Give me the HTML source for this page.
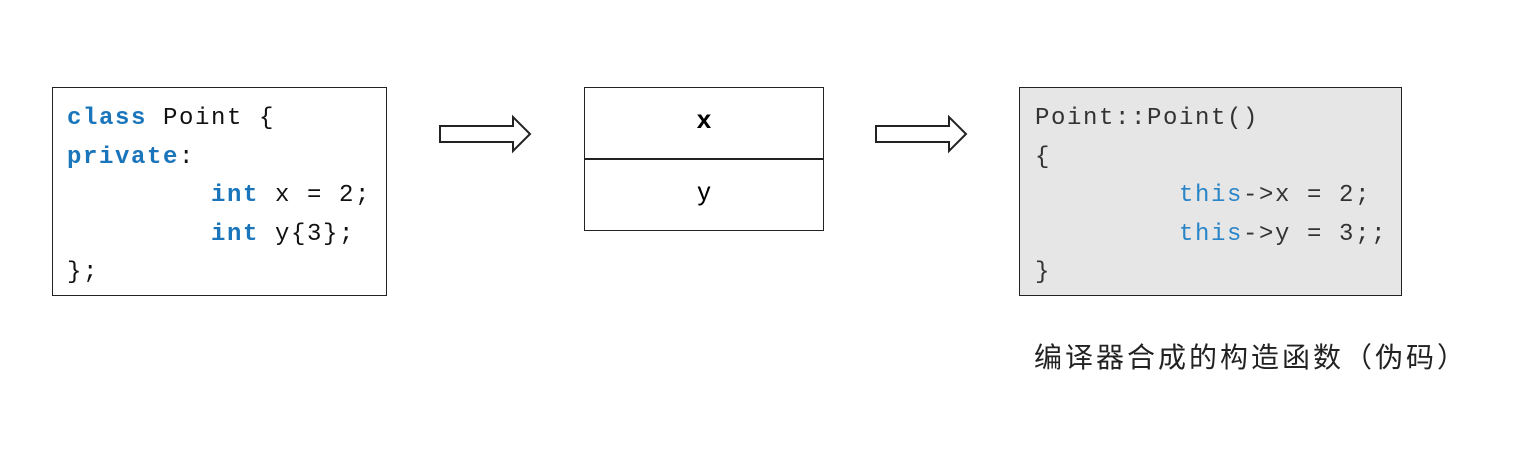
<!DOCTYPE html>
<html><head><meta charset="utf-8"><style>
body{margin:0;width:1520px;height:476px;background:#fff;position:relative;overflow:hidden}
.box{position:absolute;border:1.5px solid #222;box-sizing:border-box}
.code{position:absolute;font-family:"Liberation Mono","Noto Sans CJK SC",monospace;font-size:24px;letter-spacing:1.6px;white-space:pre;line-height:38.5px;color:#111}
.k{color:#1a75bb;font-weight:bold}
.t{color:#2a84c8}
.g{color:#333}
</style></head><body>
<div class="box" style="left:52px;top:87px;width:335px;height:209px"></div>
<div class="code" style="left:67px;top:100px"><span class="k">class</span> Point {
<span class="k">private</span>:
         <span class="k">int</span> x = 2;
         <span class="k">int</span> y{3};
};</div>

<svg style="position:absolute;left:0;top:0" width="1520" height="476">
<path d="M440 126 H513 V117 L530 134 L513 151 V142 H440 Z" fill="#fff" stroke="#222" stroke-width="2"/>
<path d="M876 126 H949 V117 L966 134 L949 151 V142 H876 Z" fill="#fff" stroke="#222" stroke-width="2"/>
</svg>

<div class="box" style="left:584px;top:87px;width:240px;height:144px"></div>
<div style="position:absolute;left:584px;top:158px;width:240px;height:1.5px;background:#222"></div>
<div style="position:absolute;left:584px;top:104px;width:240px;text-align:center;font:bold 26px 'Liberation Sans',sans-serif">x</div>
<div style="position:absolute;left:584px;top:176px;width:240px;text-align:center;font:26px 'Liberation Sans',sans-serif">y</div>

<div class="box" style="left:1019px;top:87px;width:383px;height:209px;background:#e6e6e6"></div>
<div class="code g" style="left:1035px;top:100px">Point::Point()
{
         <span class="t">this</span>-&gt;x = 2;
         <span class="t">this</span>-&gt;y = 3;;
}</div>

<div style="position:absolute;left:1034px;top:336px;font:28px 'Liberation Sans','Noto Sans CJK SC',sans-serif;color:#222;letter-spacing:3px;white-space:nowrap">编译器合成的构造函数（伪码）</div>
</body></html>
